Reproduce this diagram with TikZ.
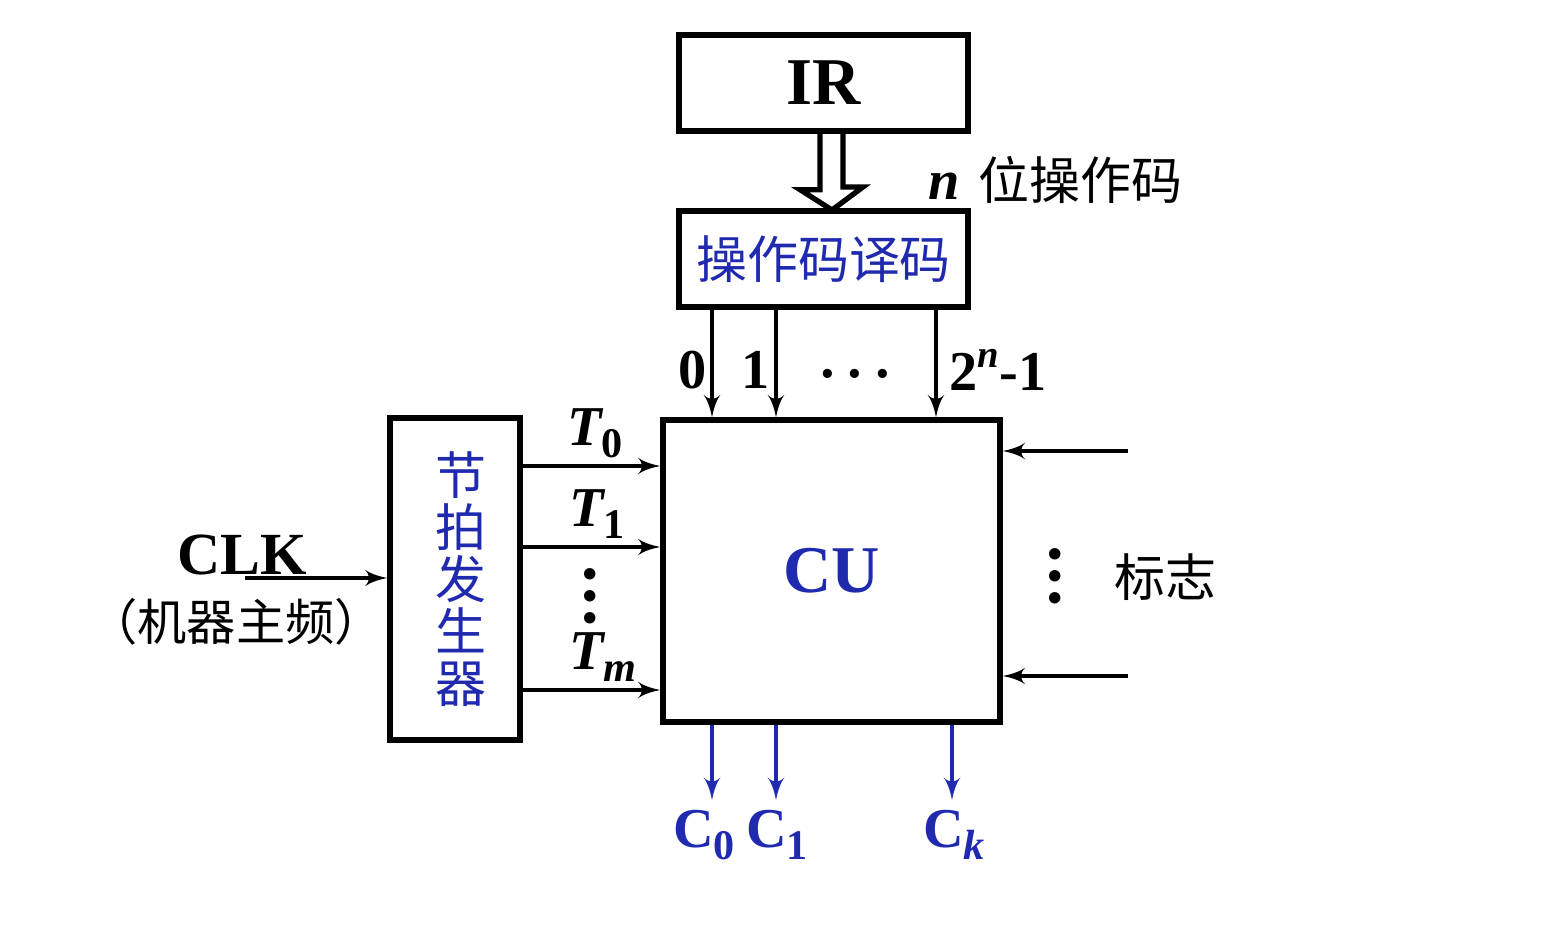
\documentclass[tikz,border=0pt]{standalone}
\usepackage{fontspec}
\setmainfont{Liberation Serif}
\newfontfamily\cjk{Noto Sans CJK SC}
\usetikzlibrary{arrows}
\usetikzlibrary{positioning}
\definecolor{cublue}{RGB}{32,42,175}
\newcommand{\tightlines}{\lineskiplimit=-50pt\relax}
\tikzset{box/.style = {draw, line width=1.5pt, inner sep=0pt},
         sig/.style = {-{latex'[scale=1.35]}, line width=1.2pt},
         csig/.style = {sig, draw=cublue},
         lbl/.style = {font=\fontsize{16}{16}\selectfont\bfseries},
         zh/.style = {font=\fontsize{14.5}{14.5}\selectfont\cjk},
         vdot/.style = {align=center, inner sep=0pt,
                        font=\fontsize{20}{6.2}\selectfont\bfseries\tightlines}}
\newcommand{\lowidx}[1]{\raisebox{-0.45ex}{\fontsize{12}{12}\selectfont #1}}

\begin{document}
\begin{tikzpicture}[x=0.01cm, y=-0.01cm]
  \useasboundingbox (0,0) rectangle (1545,931);

  % boxes
  \node [box, minimum width=2.89cm, minimum height=0.96cm,
         font=\fontsize{19}{19}\selectfont\bfseries] (ir) at (823.5,83) {IR};
  \node [box, minimum width=2.89cm, minimum height=0.96cm, zh, text=cublue] (dec) at (823.5,259) {操作码译码};
  \node [box, minimum width=3.37cm, minimum height=3.02cm,
         font=\fontsize{19}{19}\selectfont\bfseries, text=cublue] (cu) at (831.5,571) {CU};
  \node [box, minimum width=1.30cm, minimum height=3.22cm, zh, text=cublue,
         align=center, font=\fontsize{14.5}{14.8}\selectfont\cjk] (gen) at (455,579)
        {\hspace*{0.12cm}节\\\hspace*{0.12cm}拍\\\hspace*{0.12cm}发\\\hspace*{0.12cm}生\\\hspace*{0.12cm}器};

  % IR -> decoder
  \coordinate (tip) at (832,210);
  \draw [line width=1.5pt, line join=miter] (ir.south -| tip) ++(-12,0) -- ++(0,56) -- ++(-20,0)
        -- (tip) -- ++(31,-23) -- ++(-20,0) -- ++(0,-56);
  \node [anchor=west] (opn) at (916,180)
        {\fontsize{16}{16}\selectfont\bfseries\itshape n\,\,\fontsize{14.5}{14.5}\selectfont\mdseries\upshape\cjk 位操作码};

  % decoder -> CU
  \coordinate (c0) at (712,0);
  \coordinate (c1) at (776,0);
  \coordinate (c2) at (936,0);
  \foreach \n in {0,1,2}
    \draw [sig] (dec.south -| c\n) -- (cu.north -| c\n);
  \node [lbl] (l0) at (693,370) {0};
  \node [lbl] (l1) at (756,370) {1};
  \node [lbl] (ldots) at (855,381) {·\hspace{2.5pt}·\hspace{2.5pt}·};
  \node [lbl] (l2) at (998,370) {2\raisebox{0.9ex}{\fontsize{11}{11}\selectfont\itshape n}-1};

  % beats
  \coordinate (t0) at (0,466);
  \coordinate (t1) at (0,547);
  \coordinate (tm) at (0,690);
  \foreach \n in {t0,t1,tm}
    \draw [sig] (gen.east |- \n) -- (cu.west |- \n);
  \node [lbl] (lt0) at (595,433) {\itshape T\lowidx{\upshape 0}};
  \node [lbl] (lt1) at (597,514) {\itshape T\lowidx{\upshape 1}};
  \node [lbl] (ltm) at (603,657) {\itshape T\lowidx{m}};
  \node [vdot] (tdots) at (590,605) {·\\·\\·};

  % clock
  \coordinate (clk) at (245,578);
  \draw [sig] (clk) -- (gen.west |- clk);
  \node [font=\fontsize{17}{17}\selectfont\bfseries] (lclk) at (242,555) {CLK};
  \node [font=\fontsize{14}{14}\selectfont\cjk] (lfreq) at (236,622) {（机器主频）};

  % flags
  \coordinate (f0) at (1128,451);
  \coordinate (f1) at (1128,676);
  \foreach \n in {f0,f1}
    \draw [sig] (\n) -- (cu.east |- \n);
  \node [vdot] (fdots) at (1055,585) {·\\·\\·};
  \node [zh] (lflag) at (1165,577) {标志};

  % control signals
  \coordinate (o0) at (712,800);
  \coordinate (o1) at (776,800);
  \coordinate (ok) at (952,800);
  \foreach \n in {o0,o1,ok}
    \draw [csig] (cu.south -| \n) -- (\n);
  \node [lbl, text=cublue] (lc0) at (704,835) {C\lowidx{0}};
  \node [lbl, text=cublue] (lc1) at (777,835) {C\lowidx{1}};
  \node [lbl, text=cublue] (lck) at (954,835) {C\lowidx{\itshape k}};
\end{tikzpicture}
\end{document}
